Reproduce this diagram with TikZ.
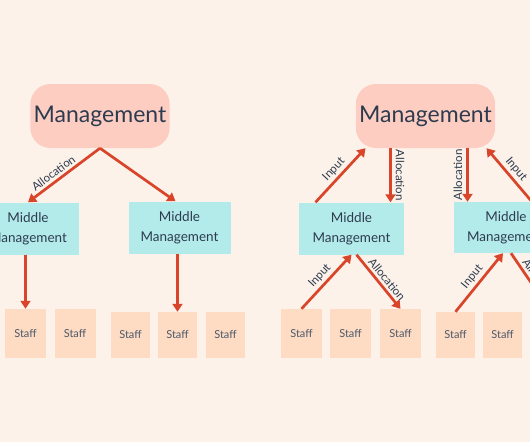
\documentclass[tikz,border=0pt]{standalone}
\usepackage{fontspec}
\setmainfont{Lato}
\usetikzlibrary{arrows.meta}
\definecolor{bgcream}{HTML}{FDF2E9}
\definecolor{mgmtpink}{HTML}{FECDC2}
\definecolor{midcyan}{HTML}{B3EBEA}
\definecolor{staffpeach}{HTML}{FEDCC3}
\definecolor{arrowred}{HTML}{D8452A}
\definecolor{inknavy}{HTML}{2D3B4F}
\tikzset{
  mgmt/.style={fill=mgmtpink,rounded corners=20pt,minimum width=138pt,minimum height=64pt,
    text=inknavy,font=\fontsize{23}{27}\selectfont},          % top box
  mid/.style={fill=midcyan,minimum width=102pt,minimum height=52pt,align=center,
    text=inknavy,font=\fontsize{13.5}{20}\selectfont},        % middle management
  staff/.style={fill=staffpeach,minimum width=41pt,minimum height=49pt,
    text=inknavy!85,font=\fontsize{11}{13}\selectfont},       % staff box
  staffs/.style={staff,minimum width=39pt,minimum height=46pt},
  flow/.style={-{Triangle[length=8pt,width=10pt]},arrowred,line width=2.7pt},
  lbl/.style={text=inknavy,font=\fontsize{11.5}{13}\selectfont,inner sep=2.5pt},
}

\begin{document}
\begin{tikzpicture}[x=1pt,y=-1pt]
  \useasboundingbox (0,0) rectangle (530,442);
  \fill[bgcream] (0,0) rectangle (530,442);
  \clip (0,0) rectangle (530,442);

  % left chart: allocation only
  \node[mgmt] (mgmtL) at (100,116) {Management};
  \node[mid] (midLa) at (28,228.5) {Middle\\Management};
  \node[mid] (midLb) at (179.5,227.5) {Middle\\Management};
  \foreach \x/\n in {25.5/sLa,75/sLb} \node[staff] (\n) at (\x,333.5) {Staff};
  \foreach \x/\n in {130.5/sLc,177.5/sLd,225.5/sLe} \node[staffs] (\n) at (\x,335) {Staff};

  \draw[flow] (mgmtL.south) -- node[lbl,sloped,above,pos=0.58] {Allocation} (midLa.north);
  \draw[flow] (mgmtL.south) -- ([xshift=-4pt]midLb.north);
  \draw[flow] (sLa.north |- midLa.south) -- (sLa.north);
  \draw[flow] (sLd.north |- midLb.south) -- (sLd.north);

  % right chart: input and allocation
  \node[mgmt] (mgmtR) at (425.5,116) {Management};
  \node[mid,minimum width=105pt] (midRa) at (351.5,228.5) {Middle\\Management};
  \node[mid,minimum width=105pt,minimum height=51pt] (midRb) at (506,227.5) {Middle\\Management};
  \foreach \x/\n in {301.5/sRa,350.5/sRb,400.5/sRc} \node[staff] (\n) at (\x,333.5) {Staff};
  \foreach \x/\n in {455.5/sRd,502.5/sRe,551/sRf} \node[staffs] (\n) at (\x,335) {Staff};

  \coordinate (alR1) at ([xshift=-35pt]mgmtR.south);
  \coordinate (alR2) at ([xshift=42pt]mgmtR.south);

  \draw[flow] ([xshift=-36pt]midRa.north) -- node[lbl,sloped,above] {Input} ([xshift=-60pt]mgmtR.south);
  \draw[flow] (alR1) -- node[lbl,sloped,above,inner sep=4pt] {Allocation} (alR1 |- midRa.north);
  \draw[flow] (alR2) -- node[lbl,rotate=90,anchor=south,inner sep=4pt] {Allocation} (alR2 |- midRb.north);
  \draw[flow] ([xshift=26pt]midRb.north) -- node[lbl,sloped,above] {Input} ([xshift=61pt]mgmtR.south);

  \draw[flow] (sRa.north) -- node[lbl,sloped,above] {Input} (midRa.south);
  \draw[flow] ([xshift=5pt]midRa.south) -- node[lbl,sloped,above,pos=0.55] {Allocation} (sRc.north);
  \draw[flow] (sRd.north) -- node[lbl,sloped,above] {Input} ([xshift=-3pt]midRb.south);
  \draw[flow] ([xshift=5pt]midRb.south) -- node[lbl,sloped,above,pos=0.55] {Allocation} (sRf.north);
\end{tikzpicture}
\end{document}
